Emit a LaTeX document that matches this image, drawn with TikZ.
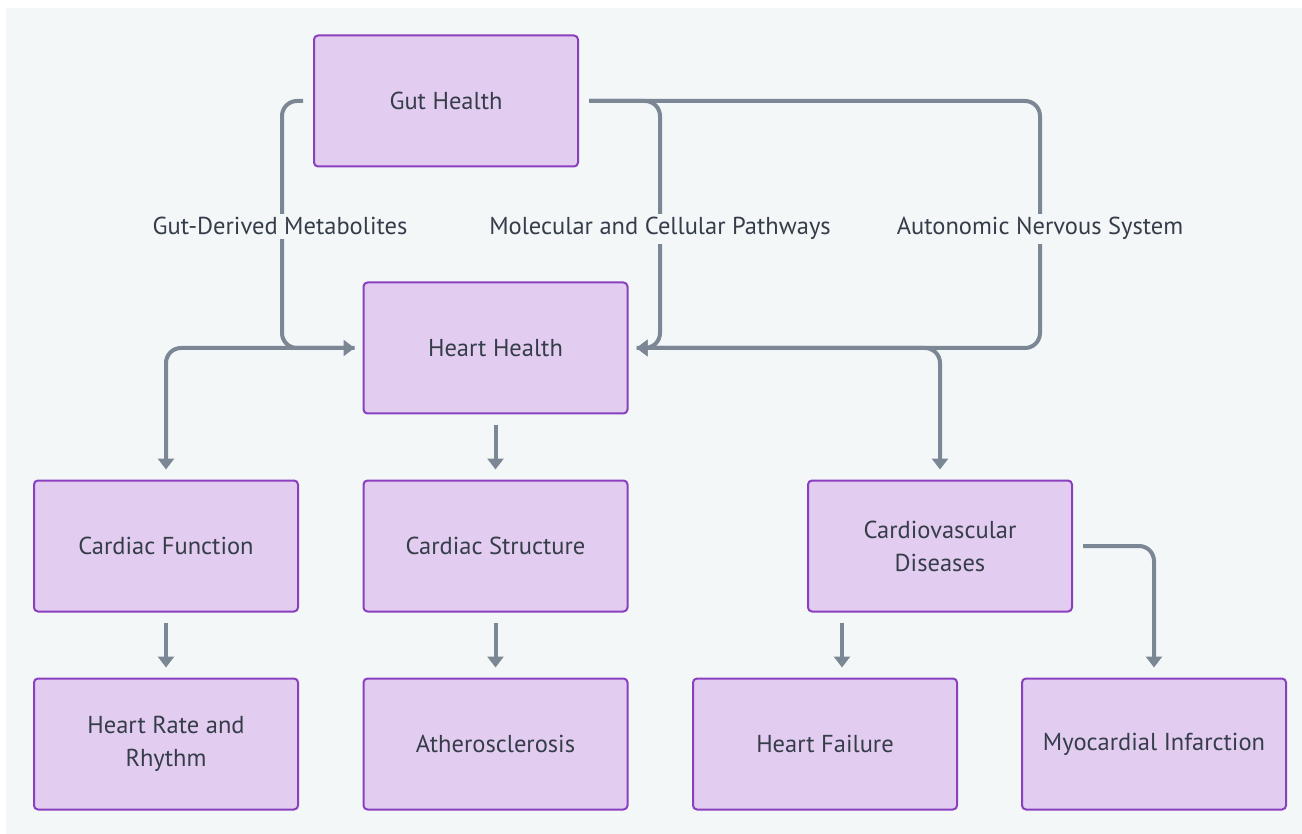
\documentclass[tikz,border=0pt]{standalone}
\usepackage{fontspec}
\setmainfont{PT Sans}
\usetikzlibrary{arrows.meta}
\definecolor{bg}{HTML}{F3F7F8}
\definecolor{boxfill}{HTML}{E2CCF0}
\definecolor{boxline}{HTML}{8A3FBF}
\definecolor{edge}{HTML}{7B8794}
\definecolor{txt}{HTML}{363D4A}
\tikzset{
  box/.style={draw=boxline, line width=2pt, fill=boxfill, rounded corners=4pt,
    minimum width=264pt, minimum height=131pt, inner sep=0pt, align=center,
    text=txt, font=\fontsize{24.5}{33}\selectfont},
  conn/.style={draw=edge, line width=4pt, rounded corners=15pt,
    -{Triangle[length=11pt,width=16pt]}},
  lbl/.style={fill=bg, text=txt, inner sep=4pt, anchor=base, font=\fontsize{24.5}{26}\selectfont}
}
\begin{document}
\begin{tikzpicture}[x=1pt,y=-1pt]
\useasboundingbox (0,0) rectangle (1302,834);
\fill[white] (0,0) rectangle (1302,834);
\fill[bg] (6,8) rectangle (1302,834);

\node[box] (gut) at (446,101) {Gut Health};
\node[box] (heart) at (495.5,348) {Heart Health};
\node[box] (cf) at (166,546) {Cardiac Function};
\node[box] (cs) at (495.5,546) {Cardiac Structure};
\node[box] (cvd) at (940,546) {Cardiovascular\\Diseases};
\node[box] (hrr) at (166,744) {Heart Rate and\\Rhythm};
\node[box] (ath) at (495.5,744) {Atherosclerosis};
\node[box] (hf) at (825,744) {Heart Failure};
\node[box] (mi) at (1154,744) {Myocardial Infarction};

\coordinate (hl) at ([xshift=-8pt]heart.west);
\coordinate (hr) at ([xshift=8pt]heart.east);
\coordinate (gl) at ([xshift=-10pt]gut.west);
\coordinate (gr) at ([xshift=10pt]gut.east);

% Gut -> Heart
\draw[conn] (gl) -- (282,101) -- (282,348) -- (hl);
\draw[conn] (gr) -- (660,101) -- (660,348) -- (hr);
\draw[conn] (gr) -- (1040,101) -- (1040,348) -- (hr);
\node[lbl] (l1) at (280,235) {Gut-Derived Metabolites};
\node[lbl] (l2) at (660,235) {Molecular and Cellular Pathways};
\node[lbl] (l3) at (1040,235) {Autonomic Nervous System};

% Heart -> second row
\draw[conn] (hl) -- (166,348) -- ([yshift=10pt]cf.north);
\draw[conn] ([yshift=-10pt]heart.south) -- ([yshift=10pt]cs.north);
\draw[conn] (hr) -- (940,348) -- ([yshift=10pt]cvd.north);

% second -> third row
\draw[conn] ([yshift=-10pt]cf.south) -- ([yshift=10pt]hrr.north);
\draw[conn] ([yshift=-10pt]cs.south) -- ([yshift=10pt]ath.north);
\draw[conn] ([xshift=-98pt,yshift=-10pt]cvd.south) -- ([xshift=17pt,yshift=10pt]hf.north);
\draw[conn] ([xshift=10pt]cvd.east) -- (1154,546) -- ([yshift=10pt]mi.north);
\end{tikzpicture}
\end{document}
